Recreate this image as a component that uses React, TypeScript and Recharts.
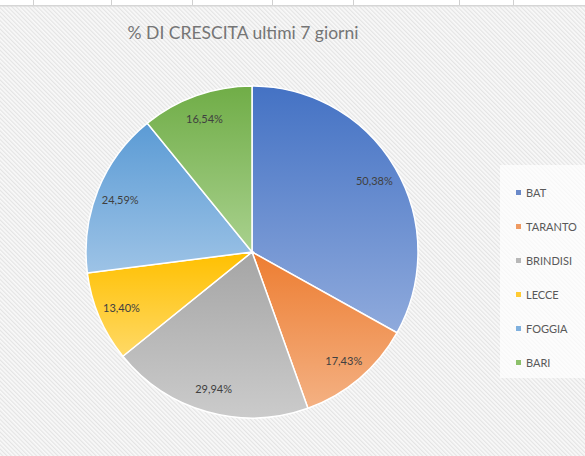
import React from 'react';
import { PieChart, Pie, Cell, Legend } from 'recharts';

const categories = ['BAT', 'TARANTO', 'BRINDISI', 'LECCE', 'FOGGIA', 'BARI'];
const growthValues = [50.38, 17.43, 29.94, 13.4, 24.59, 16.54];
const topColors = ['#4472c4', '#ed7d31', '#a5a5a5', '#ffc000', '#5b9bd5', '#70ad47'];
const bottomColors = ['#8faadc', '#f4b183', '#cbcbcb', '#ffd966', '#9dc3e6', '#a9d18e'];
const legendColors = ['#6a89c9', '#ef9a62', '#b8b8b8', '#ffcb33', '#7fb0de', '#8cc06a'];
const title = '% DI CRESCITA ultimi 7 giorni';
const gridLinesX = [33, 111, 192, 272, 353, 459, 513];

const data = categories.map((name, i) => ({ name, value: growthValues[i] }));

const RADIAN = Math.PI / 180;
const FONT = 'Lato, "Open Sans", sans-serif';

const renderLabel = (props: any) => {
  const { cx, cy, midAngle, outerRadius, value } = props;
  const r = outerRadius * 0.855;
  const x = cx + r * Math.cos(-midAngle * RADIAN);
  const y = cy + r * Math.sin(-midAngle * RADIAN);
  return (
    <text x={x} y={y} textAnchor="middle" dominantBaseline="central" fill="#404040" fontSize={11} fontFamily={FONT}>
      {value.toFixed(2).replace('.', ',') + '%'}
    </text>
  );
};

const LegendContent = () => (
  <div style={{ width: 85, height: 213, background: 'rgba(255,255,255,0.7)', position: 'relative' }}>
    {categories.map((c, i) => (
      <div
        key={c}
        style={{
          position: 'absolute',
          left: 16,
          top: 27 + i * 34 - 7,
          height: 14,
          display: 'flex',
          alignItems: 'center',
          fontFamily: FONT,
          fontSize: 11,
          color: '#595959',
          whiteSpace: 'nowrap',
        }}
      >
        <span style={{ width: 5, height: 5, background: legendColors[i], display: 'inline-block', marginRight: 5 }} />
        {c}
      </div>
    ))}
  </div>
);

export default function App() {
  return (
    <div style={{ position: 'absolute', left: 0, top: 0, width: 585, height: 456, overflow: 'hidden' }}>
      <svg width={585} height={456} style={{ position: 'absolute', left: 0, top: 0 }}>
        <defs>
          <pattern id="hatch" width="3" height="3" patternUnits="userSpaceOnUse" patternTransform="rotate(-45)">
            <rect width="3" height="3" fill="#f9f9f9" />
            <rect width="1.2" height="3" fill="#e4e4e4" />
          </pattern>
          {categories.map((c, i) => (
            <linearGradient key={c} id={`grad${i}`} x1="0" y1="0" x2="0" y2="1">
              <stop offset="0%" stopColor={topColors[i]} />
              <stop offset="100%" stopColor={bottomColors[i]} />
            </linearGradient>
          ))}
        </defs>
        <rect x={0} y={0} width={585} height={456} fill="url(#hatch)" />
        <rect x={0} y={0} width={585} height={5} fill="#ffffff" />
        <rect x={0} y={5} width={585} height={1.5} fill="#d6d6d6" />
        {gridLinesX.map((x) => (
          <rect key={x} x={x} y={0} width={1} height={5} fill="#d0d0d0" />
        ))}
        <text x={243} y={32} textAnchor="middle" dominantBaseline="central" fill="#757575" fontSize={17.5} fontFamily={FONT}>
          {title}
        </text>
      </svg>
      <div style={{ position: 'absolute', left: 0, top: 0 }}>
        <PieChart width={585} height={456} margin={{ top: 0, right: 0, bottom: 0, left: 0 }}>
          <Pie
            data={data}
            dataKey="value"
            nameKey="name"
            cx={252}
            cy={252}
            outerRadius={166}
            startAngle={90}
            endAngle={-270}
            stroke="#ffffff"
            strokeWidth={1.5}
            label={renderLabel}
            labelLine={false}
            isAnimationActive={false}
          >
            {data.map((d, i) => (
              <Cell key={d.name} fill={`url(#grad${i})`} />
            ))}
          </Pie>
          <Legend
            content={<LegendContent />}
            wrapperStyle={{ position: 'absolute', left: 500, top: 165, width: 85, height: 213 }}
          />
        </PieChart>
      </div>
    </div>
  );
}
